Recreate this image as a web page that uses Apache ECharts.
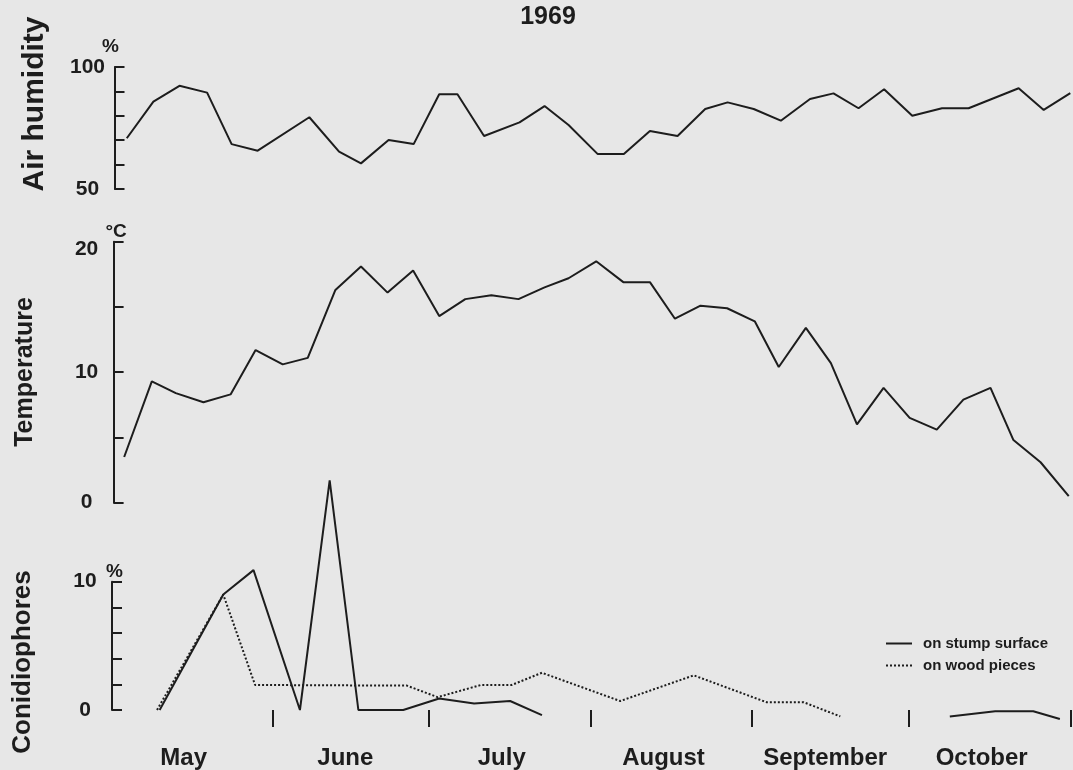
<!DOCTYPE html>
<html><head><meta charset="utf-8">
<script src="https://cdn.jsdelivr.net/npm/echarts@6/dist/echarts.min.js"></script>
<style>html,body{margin:0;padding:0;background:#e7e7e7}#c{width:1073px;height:770px}</style>
</head><body><div id="c"></div>
<script>
// ---- data (x = day of year 1969) ----
const yearLabel = '1969';
const monthNames = ['May', 'June', 'July', 'August', 'September', 'October'];
const monthStartDays = [152, 182, 213, 244, 274, 305];
const monthLabelDays = [135, 166, 196, 227, 258, 288];

const humidityDays = [124.1,129.2,134.2,139.5,144.2,149.2,159.1,164.8,169.0,174.3,179.1,184.0,187.5,192.6,199.4,204.2,208.8,214.4,219.4,224.4,229.7,235.0,239.3,244.3,249.5,255.1,259.6,264.4,269.3,274.7,280.4,285.5,295.1,299.9,305.0];
const humidityValues = [70.8,85.8,92.3,89.5,68.4,65.7,79.4,65.3,60.5,70.1,68.4,88.8,88.8,71.7,77.3,84.0,76.2,64.3,64.3,73.8,71.7,82.8,85.5,82.8,78.0,86.9,89.2,83.1,90.9,80.0,83.1,83.1,91.3,82.4,89.3];

const tempDays = [123.6,128.9,133.5,138.8,144.0,148.8,154.0,158.8,164.1,169.0,174.1,179.0,184.0,189.0,194.0,199.2,204.2,208.8,214.1,219.3,224.4,229.2,234.1,239.2,244.5,249.1,254.3,259.1,264.1,269.2,274.2,279.4,284.5,289.7,294.1,299.3,304.7];
const tempValues = [3.5,9.3,8.4,7.7,8.3,11.7,10.6,11.1,16.3,18.1,16.1,17.8,14.3,15.6,15.9,15.6,16.5,17.2,18.5,16.9,16.9,14.1,15.1,14.9,13.9,10.4,13.4,10.7,6.0,8.8,6.5,5.6,7.9,8.8,4.8,3.1,0.5];

const stumpDaysEarly = [130.4,142.6,148.4,157.3,163.0,168.5,177.1,184.0,190.7,197.6,203.7];
const stumpValuesEarly = [0,9.0,10.9,0,17.9,0,0,0.9,0.5,0.7,-0.4];
const stumpDaysLate = [281.9,290.6,297.9,303.0];
const stumpValuesLate = [-0.5,-0.1,-0.1,-0.7];

const woodDays = [129.9,142.6,148.7,177.8,183.7,192.0,197.9,203.7,218.7,232.8,246.8,253.9,260.9];
const woodValues = [0,9.0,1.95,1.9,1.0,1.95,1.95,2.9,0.7,2.7,0.6,0.6,-0.5];

const humidityTicks = [50, 100];
const tempTicks = [0, 10, 20];
const conidTicks = [0, 10];

// ---- layout ----
const INK = '#1d1d1d';
const FONT = '"Liberation Sans", Arial, Helvetica, sans-serif';
const PX_PER_DAY = 5.2157, X_END = 1070.3, W = 1073;
const zip = (a, b) => a.map((d, i) => [d, b[i]]);
const minFor = (left) => 305 - (X_END - left) / PX_PER_DAY;

const panels = [
  {left: 114.5, top: 67, height: 122},
  {left: 113.6, top: 241.7, height: 261},
  {left: 112, top: 581.7, height: 131.6}
];

const grids = panels.map(p => ({left: p.left, right: W - X_END, top: p.top, height: p.height}));

const xAxes = panels.map((p, i) => {
  const base = {type: 'value', gridIndex: i, min: minFor(p.left), max: 305, splitLine: {show: false}};
  if (i < 2) return Object.assign(base, {show: false});
  return Object.assign(base, {
    offset: 15,
    axisLine: {show: false},
    axisTick: {show: true, customValues: monthStartDays, length: 17, lineStyle: {color: INK, width: 2}},
    axisLabel: {
      customValues: monthLabelDays,
      formatter: v => monthNames[monthLabelDays.indexOf(v)],
      margin: 21, fontSize: 24, fontWeight: 'bold', color: INK, fontFamily: FONT
    }
  });
});

function yAxis(i, min, max, interval, labels, unit, unitPad) {
  return {
    type: 'value', gridIndex: i, min, max, interval,
    splitLine: {show: false},
    axisLine: {show: true, lineStyle: {color: INK, width: 2}},
    axisTick: {show: true, inside: true, length: 10, lineStyle: {color: INK, width: 2}},
    axisLabel: {
      customValues: labels, align: 'center', margin: 27,
      color: INK, fontSize: 21, fontWeight: 'bold', fontFamily: FONT,
      formatter: v => (v === max && i === 1) ? '{low|' + v + '}' : String(v),
      rich: {low: {fontSize: 21, fontWeight: 'bold', fontFamily: FONT, color: INK, padding: [16, 0, 0, 0]}}
    },
    name: unit, nameLocation: 'end', nameGap: 0,
    nameTextStyle: {color: INK, fontSize: 19, fontWeight: 'bold', fontFamily: FONT, align: 'center', padding: unitPad}
  };
}

const yAxes = [
  yAxis(0, 50, 100, 10, humidityTicks, '%', [0, 8, 0, 0]),
  yAxis(1, 0, 20, 5, tempTicks, '°C', [0, 0, 0, 5]),
  yAxis(2, 0, 10, 2, conidTicks, '%', [0, 0, 0, 5])
];

const lineBase = {type: 'line', symbol: 'none', silent: true, clip: false, lineStyle: {color: INK, width: 2}, itemStyle: {color: INK}};

const series = [
  Object.assign({}, lineBase, {name: 'Air humidity', xAxisIndex: 0, yAxisIndex: 0, data: zip(humidityDays, humidityValues)}),
  Object.assign({}, lineBase, {name: 'Temperature', xAxisIndex: 1, yAxisIndex: 1, data: zip(tempDays, tempValues)}),
  Object.assign({}, lineBase, {name: 'on stump surface', xAxisIndex: 2, yAxisIndex: 2, data: zip(stumpDaysEarly, stumpValuesEarly)}),
  Object.assign({}, lineBase, {name: 'on stump surface', xAxisIndex: 2, yAxisIndex: 2, data: zip(stumpDaysLate, stumpValuesLate)}),
  Object.assign({}, lineBase, {name: 'on wood pieces', xAxisIndex: 2, yAxisIndex: 2, data: zip(woodDays, woodValues),
    lineStyle: {color: INK, width: 2, type: [2, 2]}})
];

const axisTitle = (text, x, y, size) => ({
  type: 'text', x, y, rotation: Math.PI / 2,
  style: {text, fill: INK, font: 'bold ' + size + 'px ' + FONT, textAlign: 'center', textVerticalAlign: 'middle'}
});

const chart = echarts.init(document.getElementById('c'), null, {renderer: 'canvas'});
chart.setOption({
  backgroundColor: '#e7e7e7',
  animation: false,
  grid: grids,
  xAxis: xAxes,
  yAxis: yAxes,
  legend: {
    data: ['on stump surface', 'on wood pieces'],
    orient: 'vertical', left: 880, top: 631,
    itemWidth: 26, itemHeight: 14, itemGap: 7,
    itemStyle: {opacity: 0},
    textStyle: {color: INK, fontSize: 15, fontWeight: 'bold', fontFamily: FONT, padding: [0, 0, 0, 6]},
    selectedMode: false
  },
  graphic: [
    {type: 'text', x: 548, y: 17, style: {text: yearLabel, fill: INK, font: 'bold 25px ' + FONT, textAlign: 'center', textVerticalAlign: 'middle'}},
    axisTitle('Air humidity', 35, 104, 30),
    axisTitle('Temperature', 25, 372, 25),
    axisTitle('Conidiophores', 23, 662, 26)
  ],
  series
});
</script>
</body></html>
